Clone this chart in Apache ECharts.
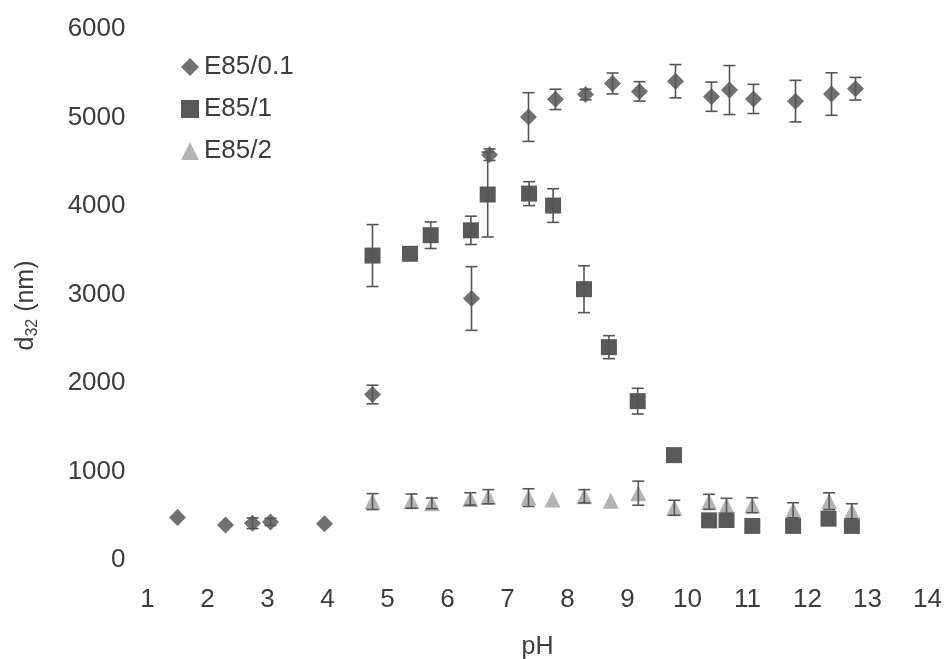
<!DOCTYPE html>
<html>
<head>
<meta charset="utf-8">
<script src="https://cdn.jsdelivr.net/npm/echarts@6/dist/echarts.min.js"></script>
<style>
  html, body { margin: 0; padding: 0; background: #ffffff; }
  #chart { width: 944px; height: 659px; }
</style>
</head>
<body>
<div id="chart"></div>
<script>
// Sauter mean droplet diameter d32 versus pH for three emulsions
const seriesNames = ['E85/0.1', 'E85/1', 'E85/2'];

// E85/0.1
const phA  = [1.5, 2.3, 2.75, 3.05, 3.95, 4.75, 6.4, 6.7, 7.35, 7.8, 8.3, 8.75, 9.2, 9.8, 10.4, 10.7, 11.1, 11.8, 12.4, 12.8];
const d32A = [480, 395, 415, 430, 410, 1870, 2955, 4580, 5005, 5205, 5260, 5385, 5295, 5410, 5235, 5310, 5210, 5185, 5265, 5325];
const errA = [0, 0, 60, 40, 0, 105, 360, 65, 275, 115, 60, 118, 110, 188, 165, 277, 165, 235, 240, 128];

// E85/1
const phB  = [4.75, 5.375, 5.72, 6.39, 6.67, 7.36, 7.76, 8.275, 8.69, 9.17, 9.775, 10.36, 10.65, 11.08, 11.76, 12.35, 12.74];
const d32B = [3440, 3460, 3670, 3725, 4130, 4140, 4005, 3060, 2405, 1795, 1185, 448, 452, 385, 385, 467, 385];
const errB = [350, 0, 150, 160, 480, 135, 190, 265, 130, 145, 0, 0, 0, 0, 0, 0, 0];

// E85/2
const phC  = [4.75, 5.4, 5.74, 6.38, 6.68, 7.35, 7.75, 8.28, 8.72, 9.18, 9.78, 10.36, 10.65, 11.08, 11.76, 12.36, 12.74];
const d32C = [660, 665, 640, 690, 715, 705, 685, 720, 670, 755, 590, 657, 612, 619, 562, 664, 551];
const errC = [90, 80, 60, 70, 80, 100, 0, 75, 0, 136, 85, 85, 85, 85, 85, 95, 85];

// Axis ticks
const xTicks = { min: 1, max: 14, step: 1 };
const yTicks = { min: 0, max: 6000, step: 1000 };

const FONT = "'Liberation Sans', Arial, sans-serif";
const TEXT = '#3c3c3c';
const BAR = '#555555';

function points(xs, ys) {
  return xs.map((x, i) => [x, ys[i]]);
}
function barData(xs, ys, es) {
  return xs.map((x, i) => [x, ys[i], es[i]]);
}

// Vertical error bar with caps, placed through the axis scales
function renderErrorBar(params, api) {
  const x = api.value(0), y = api.value(1), e = api.value(2);
  if (!e) return null;
  const top = api.coord([x, y + e]);
  const bot = api.coord([x, y - e]);
  const hw = 6;
  const style = { stroke: BAR, lineWidth: 1.6 };
  return {
    type: 'group',
    children: [
      { type: 'line', shape: { x1: top[0], y1: top[1], x2: bot[0], y2: bot[1] }, style },
      { type: 'line', shape: { x1: top[0] - hw, y1: top[1], x2: top[0] + hw, y2: top[1] }, style },
      { type: 'line', shape: { x1: bot[0] - hw, y1: bot[1], x2: bot[0] + hw, y2: bot[1] }, style }
    ]
  };
}

function errSeries(name, xs, ys, es, z) {
  return {
    name: name + ' err',
    type: 'custom',
    renderItem: renderErrorBar,
    data: barData(xs, ys, es),
    encode: { x: 0, y: 1 },
    z: z,
    silent: true
  };
}

const chart = echarts.init(document.getElementById('chart'), null, { renderer: 'canvas' });

chart.setOption({
  animation: false,
  backgroundColor: '#ffffff',
  grid: { left: 147.5, right: 16.5, top: 29, bottom: 99, outerBoundsMode: 'none', containLabel: false },
  legend: {
    data: [
      { name: seriesNames[0], icon: 'diamond' },
      { name: seriesNames[1], icon: 'rect' },
      { name: seriesNames[2], icon: 'triangle' }
    ],
    orient: 'vertical',
    left: 176,
    top: 49,
    itemWidth: 18,
    itemHeight: 18,
    itemGap: 16,
    textStyle: { fontSize: 26, color: TEXT, fontFamily: FONT, padding: [0, 0, 0, 0] }
  },
  xAxis: {
    type: 'value',
    min: xTicks.min,
    max: xTicks.max,
    interval: xTicks.step,
    axisLine: { show: false },
    axisTick: { show: false },
    splitLine: { show: false },
    axisLabel: { fontSize: 26, color: TEXT, fontFamily: FONT, margin: 27 },
    name: 'pH',
    nameLocation: 'middle',
    nameGap: 75,
    nameTextStyle: { fontSize: 25, color: TEXT, fontFamily: FONT }
  },
  yAxis: {
    type: 'value',
    min: yTicks.min,
    max: yTicks.max,
    interval: yTicks.step,
    axisLine: { show: false },
    axisTick: { show: false },
    splitLine: { show: false },
    axisLabel: {
      fontSize: 26, color: TEXT, fontFamily: FONT, margin: 22,
      formatter: (v) => String(v)
    },
    name: '{a|d}{b|32}{a| (nm)}',
    nameLocation: 'middle',
    nameGap: 107,
    nameTextStyle: {
      color: TEXT,
      fontFamily: FONT,
      padding: [0, 22, 0, 0],
      rich: {
        a: { fontSize: 25, color: TEXT, fontFamily: FONT },
        b: { fontSize: 16, color: TEXT, fontFamily: FONT, padding: [12, 0, 0, 0] }
      }
    }
  },
  series: [
    {
      name: seriesNames[0],
      type: 'scatter',
      symbol: 'diamond',
      symbolSize: 17,
      itemStyle: { color: '#4e4e4e' },
      data: points(phA, d32A),
      z: 2
    },
    errSeries(seriesNames[0], phA, d32A, errA, 3),
    {
      name: seriesNames[1],
      type: 'scatter',
      symbol: 'rect',
      symbolSize: 16,
      itemStyle: { color: '#303030' },
      data: points(phB, d32B),
      z: 4
    },
    errSeries(seriesNames[1], phB, d32B, errB, 5),
    {
      name: seriesNames[2],
      type: 'scatter',
      symbol: 'triangle',
      symbolSize: 16,
      itemStyle: { color: '#a0a0a0' },
      data: points(phC, d32C),
      z: 6
    },
    errSeries(seriesNames[2], phC, d32C, errC, 7)
  ]
});
</script>
</body>
</html>
